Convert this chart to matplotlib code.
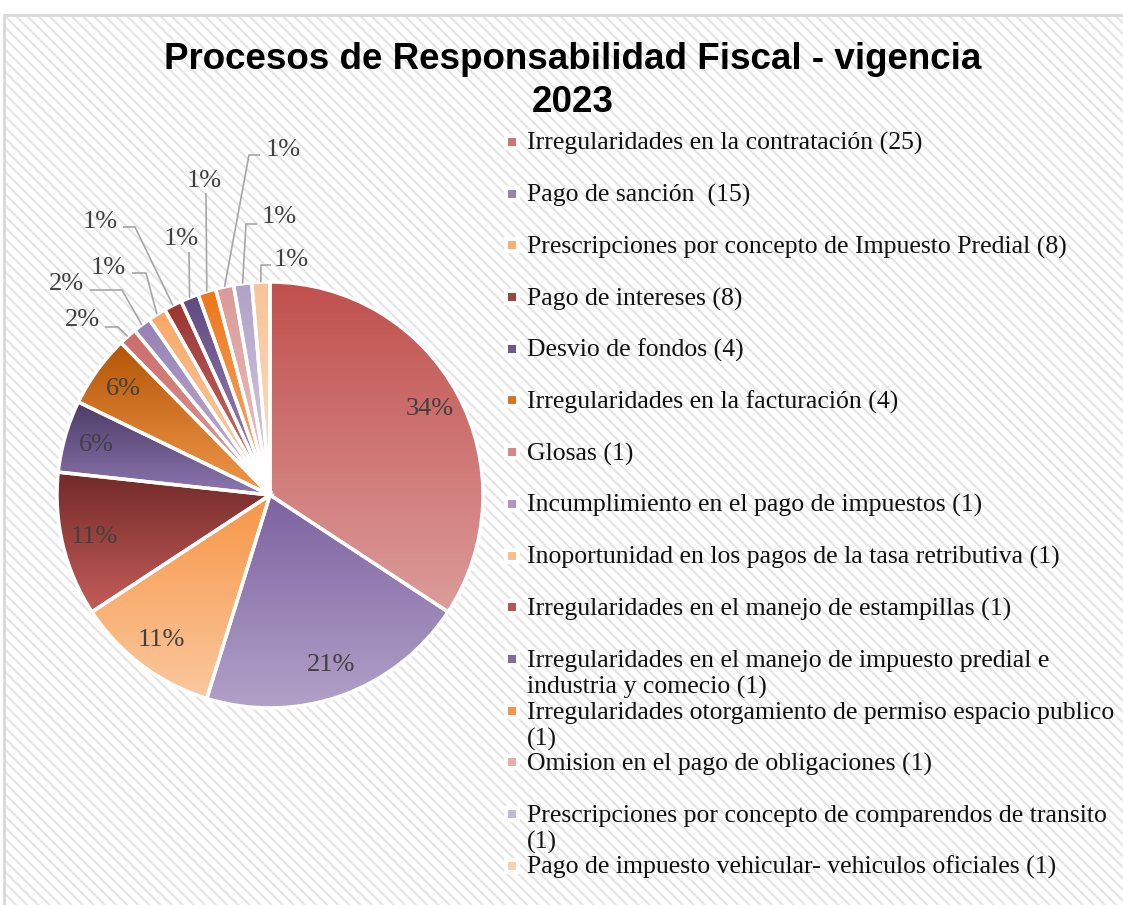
import numpy as np
import matplotlib.pyplot as plt
from matplotlib.colors import to_rgb
from matplotlib.patches import Rectangle

plt.rcParams['hatch.linewidth'] = 1.5

# Datos
categorias = [
    "Irregularidades en la contratación",
    "Pago de sanción ",
    "Prescripciones por concepto de Impuesto Predial",
    "Pago de intereses",
    "Desvio de fondos",
    "Irregularidades en la facturación",
    "Glosas",
    "Incumplimiento en el pago de impuestos",
    "Inoportunidad en los pagos de la tasa retributiva",
    "Irregularidades en el manejo de estampillas",
    "Irregularidades en el manejo de impuesto predial e\nindustria y comecio",
    "Irregularidades otorgamiento de permiso espacio publico\n",
    "Omision en el pago de obligaciones",
    "Prescripciones por concepto de comparendos de transito\n",
    "Pago de impuesto vehicular- vehiculos oficiales",
]
valores = [25, 15, 8, 8, 4, 4, 1, 1, 1, 1, 1, 1, 1, 1, 1]
porcentajes = ["34%", "21%", "11%", "11%", "6%", "6%", "2%", "2%",
               "1%", "1%", "1%", "1%", "1%", "1%", "1%"]

# colores degradado (arriba, abajo)
color_sup = ['#c0504d', '#7c62a0', '#f79646', '#722a28', '#4c3b66', '#b35506',
             '#cc6b68', '#9680b5', '#f8a866', '#9b3431', '#5f4a80', '#ee7619',
             '#da9a98', '#b0a2c8', '#f9c397']
color_inf = ['#dc9c9a', '#b3a2c9', '#fbc89e', '#c45d5a', '#8c77b0', '#f3984b',
             '#e0a3a1', '#c3b6d6', '#fbd3b0', '#cf7774', '#a18ec0', '#f8b27a',
             '#ecc6c5', '#d8cfe5', '#fde0c8']

W, H = 1123, 905
py = lambda y: H - y

fig = plt.figure(figsize=(W / 100, H / 100), dpi=100)
ax = fig.add_axes([0, 0, 1, 1])

# fondo rayado y marco
ax.add_patch(Rectangle((4, -5), W, py(15) + 5, facecolor='white', edgecolor='#e4e4e4',
                       hatch='\\\\\\', lw=0, zorder=0))
ax.add_patch(Rectangle((4, -5), W, py(15) + 5, fill=False, edgecolor='#d9d9d9', lw=2, zorder=1))

# torta
cx, cy, R = 270, py(495), 213
wedges, _ = ax.pie(valores, center=(cx, cy), radius=R, startangle=90, counterclock=False,
                   frame=True, wedgeprops=dict(edgecolor='white', linewidth=2.5, facecolor='none'))

for w, c0, c1 in zip(wedges, color_sup, color_inf):
    v = w.get_path().vertices
    x0, x1 = v[:, 0].min(), v[:, 0].max()
    y0, y1 = v[:, 1].min(), v[:, 1].max()
    t = np.linspace(0, 1, 256)[:, None]
    img = (1 - t) * np.array(to_rgb(c0)) + t * np.array(to_rgb(c1))
    im = ax.imshow(img[:, None, :], extent=(x0, x1, y0, y1), origin='upper',
                   aspect='auto', interpolation='bilinear', zorder=2)
    im.set_clip_path(w)
    w.set_zorder(3)

# etiquetas de porcentaje
fuente = 'Liberation Serif'
# posiciones de etiquetas externas: texto, inicio de linea, codo (pixeles)
externas = [
    (82, 320, 105, 327, 118, 327),
    (66, 284, 90, 290, 122, 290),
    (108, 268, 132, 273, 146, 273),
    (100, 222, 123, 227, 135, 227),
    (181, 239, 189, 252, 189, 252),
    (204, 181, 206, 193, 206, 193),
    (283, 150, 260, 155, 249, 155),
    (279, 217, 257, 224, 246, 224),
    (291, 260, 271, 265, 261, 265),
]
for i, (w, lab) in enumerate(zip(wedges, porcentajes)):
    mid = np.deg2rad((w.theta1 + w.theta2) / 2)
    if i < 6:
        ax.text(cx + 0.85 * R * np.cos(mid), cy + 0.85 * R * np.sin(mid), lab,
                ha='center', va='center', fontsize=19, color='#404040',
                family=fuente, zorder=5)
    else:
        tx, ty, sx, sy, ex, ey = externas[i - 6]
        px_, py_ = cx + R * np.cos(mid), cy + R * np.sin(mid)
        ax.plot([sx, ex, px_], [py(sy), py(ey), py_], color='#a6a6a6', lw=1.2, zorder=4,
                solid_capstyle='butt')
        ax.text(tx, py(ty), lab, ha='center', va='center', fontsize=19, color='#404040',
                family=fuente, zorder=5)

# leyenda
y_fila = 142
for nombre, val, c0, c1 in zip(categorias, valores, color_sup, color_inf):
    lineas = nombre.split('\n')
    lineas[-1] = (lineas[-1] + ' (%d)' % val).lstrip()
    ax.add_patch(Rectangle((504, py(y_fila) - 8), 16, 16, facecolor='white', lw=0, zorder=4))
    cm = (np.array(to_rgb(c0)) + np.array(to_rgb(c1))) / 2
    ax.add_patch(Rectangle((508, py(y_fila) - 4), 8, 8, facecolor=cm, lw=0, zorder=5))
    for k, ln in enumerate(lineas):
        ax.text(527, py(y_fila + 8 + k * 26.5), ln, ha='left', va='baseline',
                fontsize=18.5, color='#111111', family=fuente, zorder=5)
    y_fila += 51.7

# titulo
ax.text(573, py(81), 'Procesos de Responsabilidad Fiscal - vigencia\n2023', ha='center',
        va='center', fontsize=26.5, fontweight='bold', family='Liberation Sans',
        linespacing=1.28, zorder=5)

ax.set_xlim(0, W)
ax.set_ylim(0, H)
ax.set_aspect('auto')
ax.axis('off')

fig.savefig('out.png', dpi=100)
